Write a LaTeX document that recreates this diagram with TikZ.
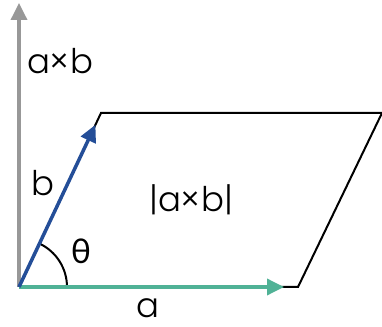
\documentclass[tikz,border=0pt]{standalone}
\usepackage{fontspec}
\setmainfont{Poppins Light}
\newfontfamily\greekfont{Lato}
\usetikzlibrary{arrows.meta}
\definecolor{vecgray}{RGB}{152,152,152}
\definecolor{vecgreen}{RGB}{80,178,150}
\definecolor{vecblue}{RGB}{36,78,152}
\tikzset{
  vec/.style = {line width=3.5pt, -{Triangle[length=17pt,width=16pt]}},
  lbl/.style = {font=\fontsize{34}{36}\selectfont, inner sep=0pt}
}
\begin{document}
\begin{tikzpicture}[x=1pt,y=1pt]
\useasboundingbox (0,0) rectangle (382,326);
\coordinate (O) at (19,39);
\coordinate (A) at (298,39);
\coordinate (B) at (101,213);
\coordinate (C) at (382,213);
\coordinate (N) at (19,323);

\draw[line width=2pt] (O)--(A)--(C)--(B)--(O);
\draw[line width=2pt] (O) ++(0:48) arc[start angle=0, end angle=64.8, radius=48];

\draw[vec, vecgray] (O)--(N);
\draw[vec, vecgreen, shorten >=14pt] (O)--(A);
\draw[vec, vecblue, shorten >=13pt] (O)--(B);

\node[lbl] (axb) at (60,265) {a×b};
\node[lbl] (b) at (43,143) {b};
\node[lbl] (area) at (191,126) {|a×b|};
\node[lbl] (theta) at (81,75) {\greekfont\fontsize{34}{36}\selectfont θ};
\node[lbl] (a) at (148,18) {a};
\end{tikzpicture}
\end{document}
